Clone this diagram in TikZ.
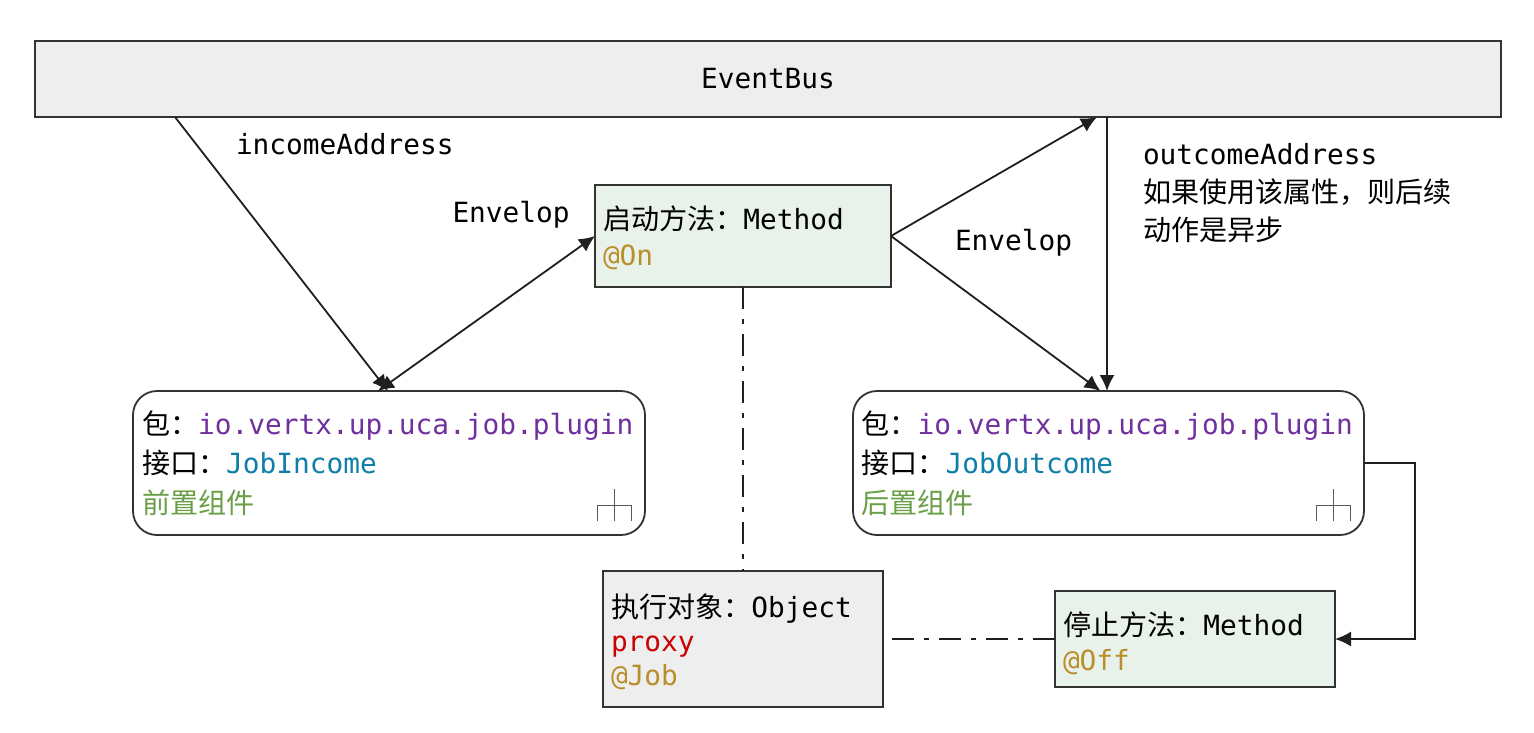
\documentclass[tikz,border=0pt]{standalone}
\usepackage{fontspec}
\setmainfont{DejaVu Sans Mono}
\newfontfamily\cjk[Scale=1.01]{Noto Sans CJK SC}
\usetikzlibrary{arrows.meta,calc}
\definecolor{strokec}{HTML}{333333}
\definecolor{greenfill}{HTML}{E8F1EA}
\definecolor{greyfill}{HTML}{EEEEEE}
\definecolor{pkgc}{HTML}{70309E}
\definecolor{ifacec}{HTML}{0E7FA8}
\definecolor{compc}{HTML}{6A9F48}
\definecolor{annoc}{HTML}{B88F2B}
\definecolor{proxyc}{HTML}{CC0000}
\newcommand{\firstline}[1]{\rule{0pt}{#1}}
\tikzset{
  x=1pt,y=-1pt,
  basefont/.style={font=\fontsize{27.8}{#1}\selectfont},
  boxbase/.style={draw=strokec,line width=1.8pt,inner sep=0pt,outer sep=0pt,align=left,anchor=north west},
  bus/.style={boxbase,fill=greyfill,minimum width=1466pt,minimum height=76pt,align=center,basefont=34},
  classbox/.style={boxbase,fill=greenfill,minimum height=#1},
  pkgbox/.style={boxbase,rounded corners=24pt,fill=white,text width=494pt,minimum height=144pt,basefont=39.5},
  lbl/.style={inner sep=0pt,outer sep=0pt,anchor=base west,align=left},
  link/.style={draw=black!88,line width=1.8pt},
  tip/.style={-{Latex[length=16pt,width=15pt]}},
  dtip/.style={{Latex[length=16pt,width=15pt]}-{Latex[length=16pt,width=15pt]}},
  assoc/.style={draw=black!88,line width=1.8pt,dash pattern=on 22pt off 10pt on 5pt off 10pt},
  subproc/.pic={\draw[draw=black!65,line width=1.5pt] (-17,0) -- (-17,-15.5) -- (17,-15.5) -- (17,0) (0,0) -- (0,-32);}
}
\begin{document}
\begin{tikzpicture}
\useasboundingbox (0,0) rectangle (1534,732);
\node[bus] (eventbus) at (35,41) {\raisebox{1pt}{EventBus}};
\node[classbox=102pt,text width=280pt,minimum width=296pt,basefont=36] (method) at (595,185)
  {\firstline{28pt}{\cjk 启动方法：}Method\\\textcolor{annoc}{@On}};
\node[pkgbox,minimum width=512pt] (income) at (133,391)
  {{\cjk 包：}\textcolor{pkgc}{io.vertx.up.uca.job.plugin}\\
   {\cjk 接口：}\textcolor{ifacec}{JobIncome}\\
   \textcolor{compc}{\cjk 前置组件}};
\node[pkgbox,minimum width=511pt] (outcome) at (853,391)
  {{\cjk 包：}\textcolor{pkgc}{io.vertx.up.uca.job.plugin}\\
   {\cjk 接口：}\textcolor{ifacec}{JobOutcome}\\
   \textcolor{compc}{\cjk 后置组件}};
\node[boxbase,fill=greyfill,text width=264pt,minimum width=280pt,minimum height=136pt,basefont=34] (object) at (603,571)
  {\firstline{30pt}{\cjk 执行对象：}Object\\\textcolor{proxyc}{proxy}\\\textcolor{annoc}{@Job}};
\node[classbox=96pt,text width=264pt,minimum width=280pt,basefont=35] (off) at (1055,591)
  {\firstline{32pt}{\cjk 停止方法：}Method\\\textcolor{annoc}{@Off}};
\pic at ([xshift=-30.5pt,yshift=14pt]income.south east) {subproc};
\pic at ([xshift=-30.5pt,yshift=14pt]outcome.south east) {subproc};

\node[lbl,basefont=34] (lincome) at (236,154) {incomeAddress};
\node[lbl,basefont=34] (lenv1) at (452.5,222) {Envelop};
\node[lbl,basefont=34] (lenv2) at (955,250) {Envelop};
\node[lbl,basefont=38,anchor=north west] (loutcome) at (1143,143)
  {outcomeAddress\\{\cjk 如果使用该属性，则后续}\\{\cjk 动作是异步}};

\coordinate (busout) at ([xshift=-593pt]eventbus.south);
\coordinate (busback) at ([xshift=339pt]eventbus.south);
\coordinate (busreturn) at ([xshift=329pt]eventbus.south);
\coordinate (incTipA) at ([xshift=-1pt]income.north);
\coordinate (incTipB) at ([xshift=-11pt]income.north);
\coordinate (outTipB) at ([xshift=-8pt]outcome.north);
\coordinate (objE) at ([xshift=9pt]object.east);

\draw[link,tip] (busout) -- (incTipA);
\draw[link,dtip] (method.west) -- (incTipB);
\draw[link,tip] (method.east) -- (busreturn);
\draw[link,tip] (method.east) -- (outTipB);
\draw[link,tip] (busback) -- (busback |- outcome.north);
\draw[link,tip,rounded corners=0pt] (outcome.east) -- ++(51,0) |- (off.east);
\draw[assoc] (method.south) -- (method.south |- object.north);
\draw[assoc] (objE) -- (objE -| off.west);
\end{tikzpicture}
\end{document}
